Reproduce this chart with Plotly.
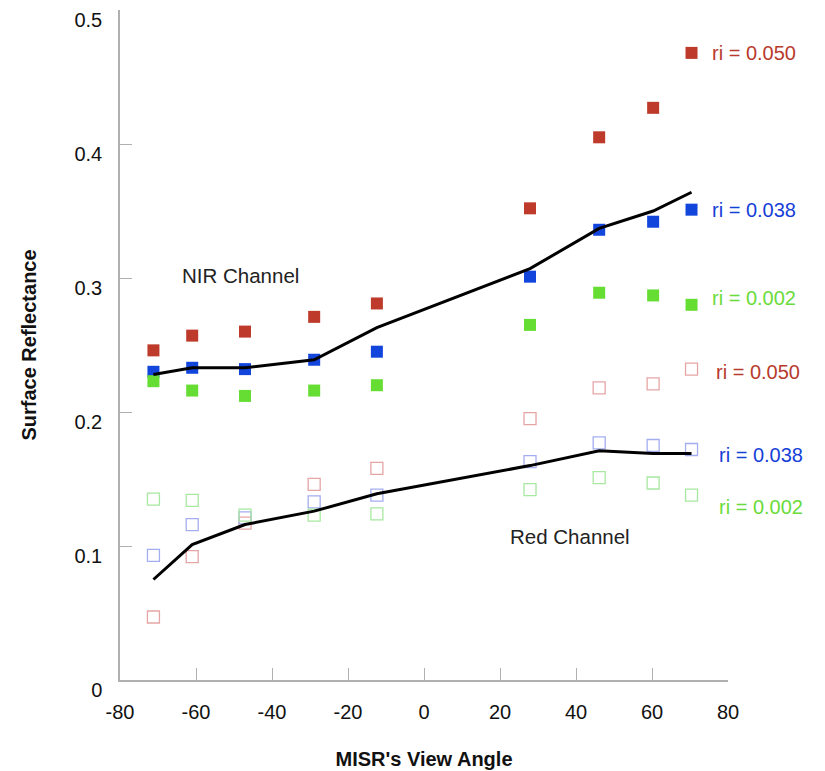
import plotly.graph_objects as go

# MISR view angles (degrees) of the nine cameras
view_angle = [-71.2, -61.0, -47.1, -28.9, -12.4, 27.9, 46.1, 60.3, 70.4]

# NIR channel surface reflectance for three ri values
nir_050 = [0.246, 0.257, 0.260, 0.271, 0.281, 0.352, 0.405, 0.427, 0.468]
nir_038 = [0.230, 0.233, 0.232, 0.239, 0.245, 0.301, 0.336, 0.342, 0.351]
nir_002 = [0.223, 0.216, 0.212, 0.216, 0.220, 0.265, 0.289, 0.287, 0.280]
nir_line = [0.228, 0.233, 0.233, 0.239, 0.263, 0.307, 0.337, 0.350, 0.364]

# Red channel surface reflectance for three ri values
red_050 = [0.047, 0.092, 0.117, 0.146, 0.158, 0.195, 0.218, 0.221, 0.232]
red_038 = [0.093, 0.116, 0.121, 0.133, 0.138, 0.163, 0.177, 0.175, 0.172]
red_002 = [0.135, 0.134, 0.123, 0.123, 0.124, 0.142, 0.151, 0.147, 0.138]
red_line = [0.075, 0.101, 0.116, 0.126, 0.139, 0.160, 0.171, 0.169, 0.169]

x_ticks = [-80, -60, -40, -20, 0, 20, 40, 60, 80]
x_tick_labels = ["-80", "-60", "-40", "-20", "0", "20", "40", "60", "80"]
y_ticks = [0, 0.1, 0.2, 0.3, 0.4, 0.5]
y_tick_labels = ["0", "0.1", "0.2", "0.3", "0.4", "0.5"]

# ri labels: (text, x, y, colour)
ri_labels = [
    ("ri = 0.050", 75.3, 0.468, "#B83A2C"),
    ("ri = 0.038", 75.3, 0.351, "#1540D8"),
    ("ri = 0.002", 75.3, 0.285, "#6ADB3A"),
    ("ri = 0.050", 76.3, 0.230, "#B83A2C"),
    ("ri = 0.038", 77.0, 0.168, "#1540D8"),
    ("ri = 0.002", 77.0, 0.129, "#6ADB3A"),
]

RED, BLUE, GREEN = "#BE3A2A", "#1245DC", "#66DD33"
RED_L, BLUE_L, GREEN_L = "#E6A5A5", "#A4ADF0", "#A8E8A0"
FONT = "Liberation Sans, Arial, sans-serif"

fig = go.Figure()

for ys, col in [(nir_050, RED), (nir_038, BLUE), (nir_002, GREEN)]:
    fig.add_trace(go.Scatter(x=view_angle, y=ys, mode="markers",
                             marker=dict(symbol="square", size=12, color=col,
                                         line=dict(width=0)),
                             cliponaxis=False, showlegend=False))

for ys, col in [(red_050, RED_L), (red_038, BLUE_L), (red_002, GREEN_L)]:
    fig.add_trace(go.Scatter(x=view_angle, y=ys, mode="markers",
                             marker=dict(symbol="square-open", size=12, color=col,
                                         line=dict(width=1.3, color=col)),
                             cliponaxis=False, showlegend=False))

for ys in [nir_line, red_line]:
    fig.add_trace(go.Scatter(x=view_angle, y=ys, mode="lines",
                             line=dict(color="black", width=3),
                             cliponaxis=False, showlegend=False))

for text, x, y, col in ri_labels:
    fig.add_annotation(x=x, y=y, text=text, showarrow=False, xanchor="left",
                       font=dict(family=FONT, size=20, color=col))

fig.add_annotation(x=-48.4, y=0.302, text="NIR Channel", showarrow=False,
                   font=dict(family=FONT, size=20.5, color="#222"))
fig.add_annotation(x=38.4, y=0.107, text="Red Channel", showarrow=False,
                   font=dict(family=FONT, size=20.5, color="#222"))

axis_common = dict(showgrid=False, zeroline=False, showline=True,
                   linecolor="#B0B0B0", linewidth=1.5, ticks="inside",
                   ticklen=12, tickcolor="#B0B0B0", tickwidth=1,
                   tickfont=dict(family=FONT, size=20, color="#111"))

fig.update_xaxes(range=[-80, 80], tickvals=x_ticks, ticktext=x_tick_labels,
                 ticklabelstandoff=13,
                 title=dict(text="<b>MISR's View Angle</b>", standoff=30,
                            font=dict(family=FONT, size=20, color="#111")),
                 **axis_common)
fig.update_yaxes(range=[0, 0.5], tickvals=y_ticks, ticktext=y_tick_labels,
                 ticklabelstandoff=12, ticklabelshift=10,
                 title=dict(text="<b>Surface Reflectance</b>", standoff=32,
                            font=dict(family=FONT, size=20, color="#111")),
                 **axis_common)

fig.update_layout(width=825, height=771, plot_bgcolor="white",
                  paper_bgcolor="white",
                  margin=dict(l=120, r=97, t=10, b=91, autoexpand=False))

fig.write_html("out.html")
